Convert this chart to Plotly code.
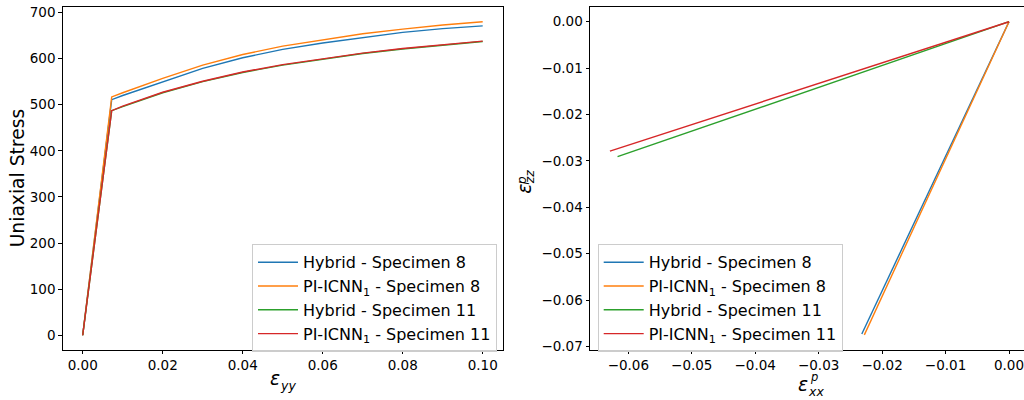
import plotly.graph_objects as go

# ---------------- data ----------------
eps_yy = [0.0, 0.00725, 0.01, 0.015, 0.02, 0.03, 0.04, 0.05, 0.06, 0.07, 0.08, 0.09, 0.10]
stress_hybrid_8 = [0, 511, 520, 535, 550, 579, 602, 620, 634, 646, 657, 665, 671]
stress_icnn_8 = [0, 517, 526, 542, 557, 586, 609, 627, 641, 654, 664, 673, 680]
stress_hybrid_11 = [0, 487, 496, 511, 526, 550, 570, 586, 599, 611, 621, 629, 637]
stress_icnn_11 = [0, 487, 497, 512, 527, 551, 571, 587, 600, 612, 622, 630, 638]

exx_hybrid_8 = [0.0, -0.0232]
ezz_hybrid_8 = [0.0, -0.0673]
exx_icnn_8 = [0.0, -0.0228]
ezz_icnn_8 = [0.0, -0.0675]
exx_hybrid_11 = [0.0, -0.0617]
ezz_hybrid_11 = [0.0, -0.0291]
exx_icnn_11 = [0.0, -0.0629]
ezz_icnn_11 = [0.0, -0.0279]

names = ["Hybrid - Specimen 8", "PI-ICNN<sub>1</sub> - Specimen 8",
         "Hybrid - Specimen 11", "PI-ICNN<sub>1</sub> - Specimen 11"]
colors = ["#1f77b4", "#ff7f0e", "#2ca02c", "#d62728"]

W, H = 1024, 400
FONT = "DejaVu Sans"

fig = go.Figure()

left_series = [stress_hybrid_8, stress_icnn_8, stress_hybrid_11, stress_icnn_11]
for name, col, ys in zip(names, colors, left_series):
    fig.add_trace(go.Scatter(x=eps_yy, y=ys, mode="lines", name=name,
                             line=dict(color=col, width=1.4),
                             xaxis="x", yaxis="y", legend="legend"))

right_series = [(exx_hybrid_8, ezz_hybrid_8), (exx_icnn_8, ezz_icnn_8),
                (exx_hybrid_11, ezz_hybrid_11), (exx_icnn_11, ezz_icnn_11)]
for name, col, (xs, ys) in zip(names, colors, right_series):
    fig.add_trace(go.Scatter(x=xs, y=ys, mode="lines", name=name,
                             line=dict(color=col, width=1.4),
                             xaxis="x2", yaxis="y2", legend="legend2"))


def px(x):
    return x / W


def py(y):
    return 1 - y / H


ydom = [py(353), py(4.7)]
tickfont = dict(family=FONT, size=13.5, color="black")
common = dict(showgrid=False, zeroline=False, ticks="outside", ticklen=3.5,
              tickwidth=1, tickcolor="black", linecolor="black", linewidth=1,
              showline=True, tickfont=tickfont)

legend_common = dict(bgcolor="rgba(255,255,255,0.8)", bordercolor="#cccccc",
                     borderwidth=1, font=dict(family=FONT, size=16, color="black"),
                     xanchor="left", yanchor="top", itemwidth=40,
                     tracegroupgap=0)

fig.update_layout(
    width=W, height=H,
    margin=dict(l=0, r=0, t=0, b=0),
    paper_bgcolor="white", plot_bgcolor="white",
    font=dict(family=FONT, color="black"),
    xaxis=dict(domain=[px(62.7), px(502.7)], range=[-0.005, 0.105],
               tickvals=[0, 0.02, 0.04, 0.06, 0.08, 0.10], tickformat=".2f",
               mirror=True, anchor="y", **common),
    yaxis=dict(domain=ydom, range=[-31.4, 712.8], dtick=100, tick0=0,
               mirror=True, anchor="x", **common),
    xaxis2=dict(domain=[px(590), 1.0], range=[-0.06604, 0.002364],
                dtick=0.01, tick0=0, tickformat=".2f", mirror=True,
                anchor="y2", ticklabeloverflow="allow", **common),
    yaxis2=dict(domain=ydom, range=[-0.0707, 0.00325], dtick=0.01, tick0=0,
                tickformat=".2f", mirror=False, anchor="x2", **common),
    legend=dict(x=px(252), y=py(246), **legend_common),
    legend2=dict(x=px(597.7), y=py(246), **legend_common),
)

lab = dict(family=FONT, size=18.7, color="black")
small = dict(family=FONT, size=12.5, color="black")
ann = []
# left y label
ann.append(dict(text="Uniaxial Stress", x=px(17), y=py(179), textangle=-90, font=lab))
# left x label
ann.append(dict(text="<i>ε</i>", x=px(274.5), y=py(382), font=lab))
ann.append(dict(text="<i>yy</i>", x=px(287.5), y=py(389), font=small))
# right x label
ann.append(dict(text="<i>ε</i>", x=px(803), y=py(388), font=lab))
ann.append(dict(text="<i>p</i>", x=px(813.5), y=py(380.5), borderpad=0,
                font=dict(family=FONT, size=11.5, color="black")))
ann.append(dict(text="<i>xx</i>", x=px(816), y=py(395), font=small))
# right y label
ann.append(dict(text="<i>ε</i>", x=px(524.5), y=py(190), textangle=-90, font=lab))
ann.append(dict(text="<i>p</i>", x=px(521), y=py(182), textangle=-90, font=small))
ann.append(dict(text="<i>zz</i>", x=px(529), y=py(178), textangle=-90, font=small))

for a in ann:
    a.update(xref="paper", yref="paper", showarrow=False,
             xanchor="center", yanchor="middle")
fig.update_layout(annotations=ann)

fig.write_html("out.html")
